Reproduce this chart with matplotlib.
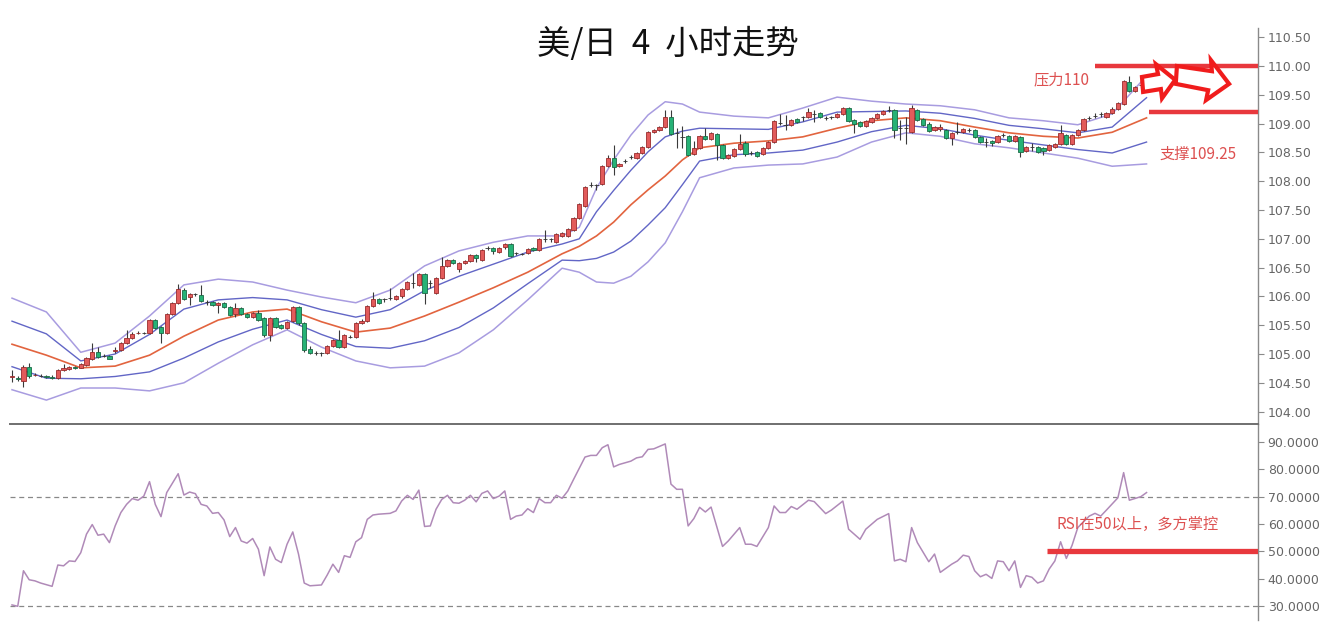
import numpy as np
import matplotlib
matplotlib.use("Agg")
import matplotlib.pyplot as plt
from matplotlib.patches import Polygon
from matplotlib.ticker import FormatStrFormatter

plt.rcParams["font.family"] = ["Noto Sans CJK SC", "DejaVu Sans"]

# 4h candles, USD/JPY (red = up, green = down)
opens = [
    104.60, 104.58, 104.53, 104.77, 104.63, 104.62, 104.61, 104.60, 104.58, 104.73,
    104.74, 104.77, 104.76, 104.81, 104.92, 105.04, 104.97, 104.97, 105.06, 105.07,
    105.19, 105.28, 105.36, 105.37, 105.37, 105.59, 105.47, 105.37, 105.69, 105.88,
    106.11, 105.99, 106.04, 106.02, 105.90, 105.90, 105.85, 105.88, 105.82, 105.69,
    105.80, 105.69, 105.64, 105.71, 105.62, 105.33, 105.62, 105.50, 105.45, 105.57,
    105.82, 105.54, 105.08, 105.02, 105.01, 105.02, 105.14, 105.24, 105.12, 105.30,
    105.30, 105.54, 105.58, 105.83, 105.95, 105.95, 105.97, 105.96, 106.00, 106.13,
    106.23, 106.20, 106.39, 106.23, 106.06, 106.32, 106.53, 106.63, 106.48, 106.58,
    106.62, 106.72, 106.63, 106.84, 106.84, 106.77, 106.85, 106.91, 106.75, 106.74,
    106.75, 106.84, 106.80, 107.00, 106.99, 106.95, 107.05, 107.05, 107.16, 107.36,
    107.57, 107.93, 107.93, 107.95, 108.26, 108.40, 108.26, 108.35, 108.42, 108.40,
    108.49, 108.59, 108.85, 108.89, 108.94, 109.11, 108.84, 108.77, 108.78, 108.47,
    108.58, 108.78, 108.73, 108.82, 108.63, 108.40, 108.44, 108.56, 108.66, 108.49,
    108.51, 108.47, 108.58, 108.68, 109.01, 108.98, 108.98, 109.08, 109.11, 109.11,
    109.17, 109.18, 109.10, 109.11, 109.11, 109.17, 109.27, 109.06, 109.03, 108.96,
    109.03, 109.10, 109.17, 109.24, 109.24, 108.92, 108.92, 108.86, 109.24, 109.08,
    109.00, 108.89, 108.90, 108.89, 108.75, 108.85, 108.85, 108.89, 108.89, 108.77,
    108.68, 108.70, 108.68, 108.80, 108.78, 108.70, 108.77, 108.52, 108.59, 108.59,
    108.57, 108.54, 108.60, 108.65, 108.80, 108.65, 108.80, 108.89, 109.10, 109.13,
    109.16, 109.11, 109.18, 109.25, 109.34, 109.72, 109.57, 109.67, 109.76,
]
closes = [
    104.62, 104.56, 104.78, 104.62, 104.64, 104.62, 104.60, 104.59, 104.72, 104.75,
    104.78, 104.76, 104.83, 104.93, 105.04, 104.95, 104.97, 104.92, 105.07, 105.19,
    105.28, 105.35, 105.37, 105.37, 105.59, 105.45, 105.37, 105.69, 105.88, 106.13,
    105.95, 106.04, 106.04, 105.92, 105.90, 105.85, 105.88, 105.82, 105.68, 105.80,
    105.69, 105.65, 105.71, 105.59, 105.33, 105.62, 105.47, 105.45, 105.55, 105.82,
    105.54, 105.07, 105.02, 105.02, 105.01, 105.14, 105.24, 105.12, 105.33, 105.30,
    105.54, 105.58, 105.83, 105.95, 105.88, 105.95, 105.97, 106.00, 106.13, 106.25,
    106.23, 106.39, 106.06, 106.23, 106.32, 106.53, 106.63, 106.58, 106.58, 106.62,
    106.72, 106.67, 106.81, 106.84, 106.79, 106.84, 106.91, 106.70, 106.75, 106.74,
    106.82, 106.80, 106.99, 107.00, 106.99, 107.08, 107.10, 107.17, 107.36, 107.60,
    107.90, 107.93, 107.93, 108.26, 108.40, 108.25, 108.30, 108.35, 108.42, 108.49,
    108.59, 108.85, 108.89, 108.94, 109.11, 108.82, 108.84, 108.77, 108.45, 108.58,
    108.78, 108.73, 108.84, 108.63, 108.40, 108.45, 108.56, 108.65, 108.47, 108.49,
    108.44, 108.58, 108.68, 109.05, 109.01, 108.98, 109.06, 109.03, 109.11, 109.20,
    109.17, 109.11, 109.10, 109.11, 109.17, 109.27, 109.05, 109.00, 108.96, 109.05,
    109.10, 109.17, 109.22, 109.24, 108.89, 108.92, 108.92, 109.27, 109.06, 108.98,
    108.87, 108.94, 108.94, 108.75, 108.84, 108.85, 108.91, 108.89, 108.77, 108.68,
    108.68, 108.66, 108.78, 108.80, 108.70, 108.78, 108.51, 108.59, 108.59, 108.51,
    108.52, 108.63, 108.65, 108.84, 108.65, 108.80, 108.89, 109.08, 109.10, 109.13,
    109.16, 109.18, 109.25, 109.36, 109.74, 109.57, 109.64, 109.67, 109.70,
]
highs = [
    104.73, 104.62, 104.81, 104.84, 104.67, 104.65, 104.64, 104.63, 104.74, 104.82,
    104.80, 104.79, 104.85, 104.95, 105.19, 105.12, 105.00, 104.99, 105.12, 105.21,
    105.42, 105.38, 105.40, 105.39, 105.61, 105.61, 105.49, 105.71, 105.90, 106.22,
    106.14, 106.06, 106.06, 106.20, 105.93, 105.92, 105.90, 105.90, 105.84, 105.88,
    105.82, 105.71, 105.73, 105.76, 105.64, 105.64, 105.64, 105.52, 105.58, 105.84,
    105.84, 105.56, 105.14, 105.05, 105.04, 105.16, 105.26, 105.42, 105.35, 105.33,
    105.56, 105.60, 105.85, 106.08, 105.97, 105.97, 106.15, 106.02, 106.15, 106.27,
    106.40, 106.41, 106.41, 106.28, 106.34, 106.68, 106.65, 106.65, 106.60, 106.64,
    106.74, 106.74, 106.83, 106.88, 106.86, 106.86, 106.93, 106.92, 106.77, 106.76,
    106.84, 106.86, 107.01, 107.15, 107.02, 107.10, 107.12, 107.19, 107.38, 107.62,
    107.92, 107.99, 107.96, 108.28, 108.45, 108.63, 108.32, 108.38, 108.45, 108.51,
    108.61, 108.87, 108.91, 108.96, 109.24, 109.24, 108.92, 108.96, 108.80, 108.70,
    108.80, 108.92, 108.86, 108.84, 108.65, 108.47, 108.58, 108.82, 108.70, 108.52,
    108.53, 108.60, 108.70, 109.07, 109.17, 109.15, 109.08, 109.10, 109.14, 109.27,
    109.24, 109.20, 109.13, 109.14, 109.19, 109.29, 109.29, 109.08, 109.05, 109.07,
    109.12, 109.19, 109.24, 109.31, 109.26, 109.06, 109.11, 109.32, 109.26, 109.10,
    109.02, 108.96, 108.99, 108.91, 108.86, 109.03, 108.93, 108.92, 108.91, 108.79,
    108.75, 108.72, 108.80, 108.83, 108.80, 108.80, 108.79, 108.61, 108.66, 108.61,
    108.59, 108.65, 108.67, 108.97, 108.82, 108.82, 108.91, 109.10, 109.14, 109.18,
    109.21, 109.20, 109.28, 109.38, 109.76, 109.83, 109.66, 109.72, 109.80,
]
lows = [
    104.52, 104.53, 104.43, 104.58, 104.61, 104.60, 104.58, 104.57, 104.56, 104.71,
    104.73, 104.74, 104.75, 104.79, 104.90, 104.93, 104.95, 104.91, 105.01, 105.06,
    105.17, 105.26, 105.34, 105.35, 105.35, 105.43, 105.19, 105.35, 105.67, 105.86,
    105.93, 105.85, 106.00, 105.90, 105.85, 105.83, 105.71, 105.80, 105.66, 105.64,
    105.67, 105.63, 105.62, 105.57, 105.30, 105.22, 105.45, 105.43, 105.43, 105.55,
    105.50, 105.04, 105.00, 104.98, 104.97, 105.00, 105.12, 105.10, 105.10, 105.27,
    105.28, 105.52, 105.56, 105.81, 105.86, 105.90, 105.94, 105.94, 105.98, 106.11,
    106.15, 106.18, 105.87, 106.15, 106.04, 106.30, 106.51, 106.56, 106.42, 106.56,
    106.60, 106.60, 106.61, 106.80, 106.74, 106.75, 106.83, 106.68, 106.72, 106.72,
    106.73, 106.78, 106.78, 106.95, 106.95, 106.93, 107.03, 107.03, 107.14, 107.34,
    107.55, 107.90, 107.85, 107.93, 108.24, 108.11, 108.24, 108.32, 108.38, 108.38,
    108.47, 108.57, 108.83, 108.87, 108.92, 108.80, 108.58, 108.58, 108.43, 108.45,
    108.56, 108.71, 108.71, 108.37, 108.38, 108.38, 108.42, 108.54, 108.44, 108.46,
    108.42, 108.45, 108.56, 108.66, 108.98, 108.89, 108.96, 109.01, 109.05, 109.09,
    109.03, 109.09, 109.07, 109.08, 109.09, 109.15, 109.03, 108.83, 108.94, 108.94,
    109.01, 109.08, 109.15, 109.21, 108.75, 108.72, 108.65, 108.84, 109.04, 108.96,
    108.85, 108.87, 108.88, 108.73, 108.63, 108.82, 108.83, 108.86, 108.75, 108.66,
    108.60, 108.62, 108.66, 108.76, 108.68, 108.68, 108.42, 108.50, 108.53, 108.49,
    108.45, 108.52, 108.58, 108.63, 108.63, 108.63, 108.78, 108.87, 109.06, 109.09,
    109.12, 109.09, 109.16, 109.23, 109.32, 109.55, 109.55, 109.62, 109.68,
]

# Bollinger bands and middle line, read at every few candles
band_idx = [0, 6, 12, 18, 24, 30, 36, 42, 48, 54, 60, 66, 72, 78, 84, 90, 96, 99, 102,
            105, 108, 111, 114, 117, 120, 126, 132, 138, 144, 150, 156, 162, 168, 174,
            180, 186, 192, 198]
band_outer_up = [105.97, 105.73, 105.03, 105.19, 105.66, 106.20, 106.30, 106.25, 106.11,
                 105.99, 105.89, 106.11, 106.53, 106.79, 106.94, 107.05, 107.05, 107.20,
                 107.88, 108.37, 108.80, 109.15, 109.38, 109.34, 109.20, 109.13, 109.10,
                 109.27, 109.46, 109.39, 109.34, 109.31, 109.24, 109.10, 109.05, 108.98,
                 109.17, 109.83]
band_inner_up = [105.57, 105.35, 104.88, 105.00, 105.34, 105.78, 105.94, 105.98, 105.94,
                 105.77, 105.64, 105.77, 106.10, 106.35, 106.56, 106.77, 106.91, 107.00,
                 107.47, 107.84, 108.19, 108.51, 108.77, 108.87, 108.92, 108.91, 108.90,
                 109.03, 109.20, 109.21, 109.22, 109.18, 109.09, 108.97, 108.91, 108.84,
                 108.94, 109.45]
band_mid = [105.17, 104.98, 104.76, 104.79, 104.98, 105.31, 105.59, 105.73, 105.78,
            105.56, 105.38, 105.45, 105.66, 105.90, 106.15, 106.42, 106.74, 106.87,
            107.05, 107.29, 107.59, 107.85, 108.09, 108.37, 108.58, 108.66, 108.70,
            108.77, 108.92, 109.05, 109.10, 109.05, 108.94, 108.84, 108.78, 108.75,
            108.85, 109.10]
band_inner_low = [104.78, 104.58, 104.57, 104.61, 104.69, 104.93, 105.21, 105.43, 105.59,
                  105.34, 105.13, 105.10, 105.23, 105.46, 105.80, 106.22, 106.63, 106.62,
                  106.66, 106.77, 106.96, 107.24, 107.54, 107.94, 108.35, 108.46, 108.49,
                  108.54, 108.68, 108.86, 108.97, 108.91, 108.80, 108.71, 108.63, 108.55,
                  108.49, 108.68]
band_outer_low = [104.38, 104.20, 104.41, 104.41, 104.36, 104.50, 104.84, 105.16, 105.42,
                  105.12, 104.88, 104.76, 104.79, 105.02, 105.42, 105.94, 106.49, 106.42,
                  106.25, 106.23, 106.35, 106.60, 106.93, 107.47, 108.06, 108.23, 108.28,
                  108.30, 108.42, 108.68, 108.84, 108.78, 108.65, 108.58, 108.49, 108.40,
                  108.26, 108.30]

# RSI (candle index, value)
rsi_idx = [
    0, 1, 2, 3, 4, 5, 7, 8, 9, 10,
    11, 12, 13, 14, 15, 16, 17, 18, 19, 20,
    21, 22, 23, 24, 25, 26, 27, 29, 30, 31,
    32, 33, 34, 35, 36, 37, 38, 39, 40, 41,
    42, 43, 44, 45, 46, 47, 48, 49, 50, 51,
    52, 54, 55, 56, 57, 58, 59, 60, 61, 62,
    63, 64, 66, 67, 68, 69, 70, 71, 72, 73,
    74, 75, 76, 77, 78, 79, 80, 81, 82, 83,
    84, 85, 86, 87, 88, 89, 90, 91, 92, 93,
    94, 95, 96, 97, 98, 100, 101, 102, 103, 104,
    105, 106, 107, 108, 109, 110, 111, 112, 114, 115,
    116, 117, 118, 119, 120, 121, 122, 124, 125, 127,
    128, 129, 130, 132, 133, 134, 135, 136, 137, 139,
    140, 142, 143, 145, 146, 148, 149, 151, 153, 154,
    155, 156, 157, 158, 160, 161, 162, 164, 165, 166,
    167, 168, 169, 170, 171, 172, 173, 174, 175, 176,
    177, 178, 179, 180, 181, 182, 183, 184, 185, 186,
    188, 189, 190, 191, 193, 194, 195, 197, 198,
]
rsi_val = [
    30.4, 29.9, 42.9, 39.6, 39.2, 38.4, 37.2, 45.0, 44.7, 46.5,
    46.3, 49.5, 56.3, 59.8, 55.9, 56.3, 53.2, 59.3, 64.2, 67.2,
    69.3, 68.7, 70.2, 75.5, 67.2, 62.7, 71.5, 78.4, 70.6, 71.7,
    71.1, 67.2, 66.6, 63.9, 64.2, 61.5, 55.4, 58.7, 53.8, 53.0,
    54.7, 50.8, 41.1, 51.6, 47.1, 45.9, 52.6, 57.1, 49.0, 38.4,
    37.4, 37.7, 41.3, 45.3, 42.3, 48.4, 47.8, 53.5, 55.0, 61.7,
    63.3, 63.6, 63.9, 64.8, 68.4, 70.5, 69.0, 72.4, 59.1, 59.3,
    65.4, 69.0, 70.5, 67.8, 67.6, 68.7, 70.5, 68.1, 71.2, 72.1,
    69.3, 70.2, 72.1, 61.7, 62.9, 63.3, 65.6, 64.2, 69.3, 67.8,
    67.8, 70.5, 69.4, 72.1, 76.3, 84.5, 85.1, 85.1, 87.9, 89.0,
    80.9, 81.8, 82.4, 83.0, 84.2, 84.6, 87.3, 87.5, 89.3, 74.6,
    72.7, 72.7, 59.3, 62.0, 66.1, 64.4, 66.2, 51.8, 53.8, 58.7,
    52.6, 52.6, 51.8, 58.7, 66.6, 64.2, 64.2, 66.4, 65.4, 68.7,
    68.2, 63.8, 65.1, 68.4, 58.1, 54.4, 58.1, 61.7, 63.8, 46.5,
    47.1, 46.2, 58.7, 53.2, 46.2, 49.0, 42.3, 45.3, 46.5, 48.6,
    48.1, 42.9, 40.7, 41.6, 40.1, 46.5, 46.2, 42.9, 46.5, 36.8,
    41.1, 40.5, 38.4, 39.2, 43.5, 46.5, 53.5, 47.4, 52.2, 58.7,
    62.9, 63.9, 62.9, 65.1, 69.6, 78.8, 68.7, 70.0, 71.5,
]

resistance = 110.00
support = 109.21
rsi_mid = 50
price_ticks = np.arange(104.0, 110.51, 0.5)
rsi_ticks = np.arange(30, 91, 10)

RED = "#e8383d"
TXT_RED = "#dd5050"

W, H = 1322, 626
fig = plt.figure(figsize=(W / 100, H / 100), dpi=100)
ax = fig.add_axes([10 / W, 1 - 424 / H, 1248 / W, 396 / H])
ax2 = fig.add_axes([10 / W, 6 / H, 1248 / W, 196 / H])

x = np.arange(len(opens))
o = np.array(opens)
c = np.array(closes)
up = c > o
down = c < o
face = np.where(up, "#e25b5b", np.where(down, "#26b276", "#333333"))
edge = np.where(up, "#9a2c2c", np.where(down, "#1b6a46", "#333333"))

# bands
ax.plot(band_idx, band_outer_up, color="#a89ce0", lw=1.1, zorder=2)
ax.plot(band_idx, band_outer_low, color="#a89ce0", lw=1.1, zorder=2)
ax.plot(band_idx, band_inner_up, color="#6266c6", lw=1.0, zorder=2)
ax.plot(band_idx, band_inner_low, color="#6266c6", lw=1.0, zorder=2)
ax.plot(band_idx, band_mid, color="#e2643f", lw=1.2, zorder=2)

# candles
ax.vlines(x, lows, highs, color="#3a3a3a", lw=0.8, zorder=3)
ax.bar(x, np.abs(c - o), bottom=np.minimum(o, c), width=0.74,
       color=face, edgecolor=edge, linewidth=0.6, zorder=4)

xmin, xmax = -0.35, 217.45
ax.set_xlim(xmin, xmax)
ax.set_ylim(103.785, 110.66)

# resistance / support marks
ax.hlines(resistance, 189.0, xmax, color=RED, lw=3.2, zorder=5)
ax.hlines(support, 198.4, xmax, color=RED, lw=3.2, zorder=5)

arrow1 = [(197.2, 109.81), (200.0, 109.86), (199.65, 110.03), (203.0, 109.76),
          (200.7, 109.44), (200.5, 109.60), (197.4, 109.55)]
arrow2 = [(203.3, 110.00), (209.4, 109.91), (209.25, 110.10), (212.4, 109.69),
          (208.4, 109.41), (208.75, 109.58), (203.1, 109.69)]
for pts in (arrow1, arrow2):
    ax.add_patch(Polygon(pts, closed=True, facecolor="white", edgecolor="#f01c1c",
                         lw=3.0, joinstyle="miter", zorder=6))

# RSI
ax2.plot(rsi_idx, rsi_val, color="#b08ab8", lw=1.1, zorder=3)
for lvl in (70, 30):
    ax2.axhline(lvl, color="#888888", ls=(0, (4, 3)), lw=0.9, zorder=1)
ax2.hlines(rsi_mid, 180.6, xmax, color=RED, lw=3.8, zorder=4)
ax2.set_xlim(xmin, xmax)
ax2.set_ylim(24.88, 96.59)

for a, ticks, fmt in ((ax, price_ticks, "%.2f"), (ax2, rsi_ticks, "%.4f")):
    for s in ("left", "bottom", "top"):
        a.spines[s].set_visible(False)
    a.spines["right"].set_color("#8a8a8a")
    a.spines["right"].set_linewidth(1.0)
    a.yaxis.tick_right()
    a.set_yticks(ticks)
    a.yaxis.set_major_formatter(FormatStrFormatter(fmt))
    a.set_xticks([])
    a.tick_params(axis="y", direction="out", length=4, width=0.8, color="#8a8a8a",
                  labelcolor="#666666", labelsize=9, pad=3)
    for lab in a.get_yticklabels():
        lab.set_family("DejaVu Sans")
    a.patch.set_alpha(0)

ax2.spines["top"].set_visible(True)
ax2.spines["top"].set_color("#6f6f6f")
ax2.spines["top"].set_linewidth(1.4)

fig.text(668 / W, 1 - 45 / H, "美/日  4  小时走势", ha="center", va="center",
         fontsize=24, color="#111111")
fig.text(1034 / W, 1 - 80 / H, "压力110", ha="left", va="center",
         fontsize=11, color=TXT_RED)
fig.text(1159 / W, 1 - 154 / H, "支撑109.25", ha="left", va="center",
         fontsize=11, color=TXT_RED)
fig.text(1057 / W, 1 - 524 / H, "RSI在50以上，多方掌控", ha="left", va="center",
         fontsize=11, color=TXT_RED)

fig.savefig("out.png", dpi=100, facecolor="white")
